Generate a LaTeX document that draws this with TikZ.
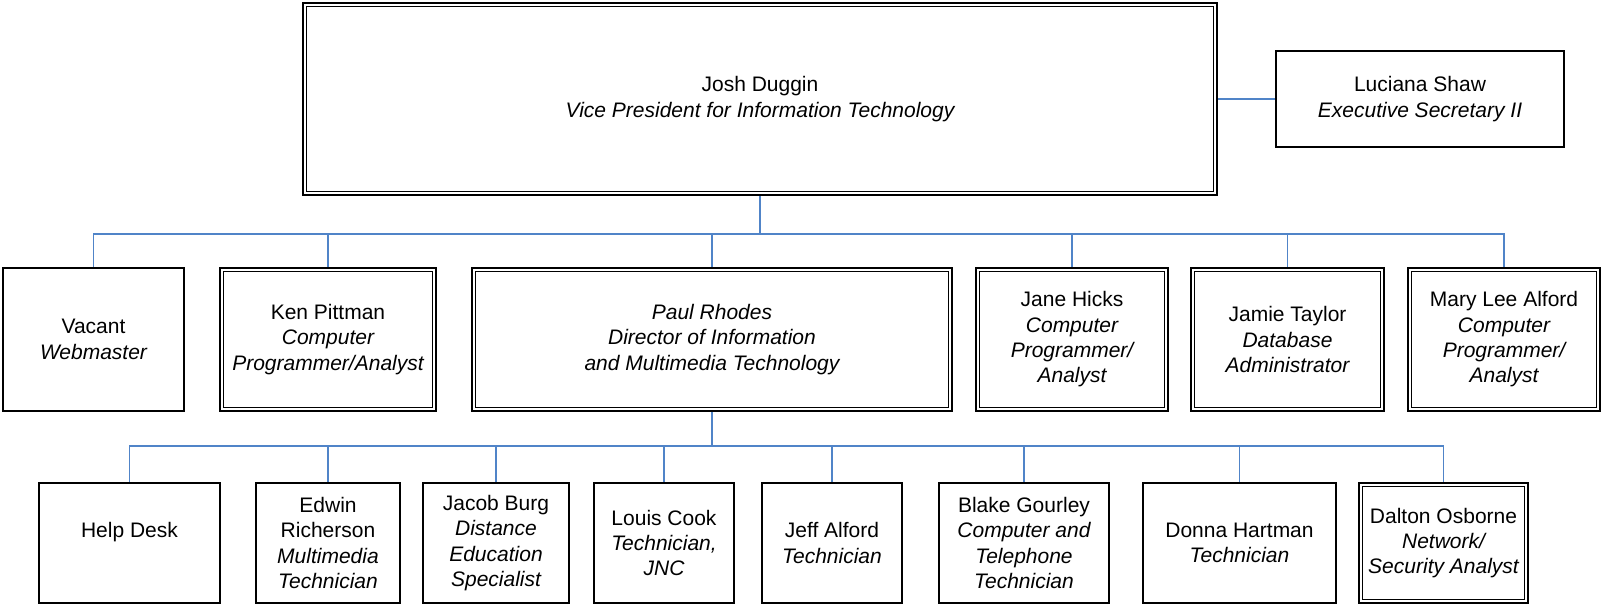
\documentclass[tikz,border=0pt]{standalone}
\usepackage{fontspec}
\setmainfont{Liberation Sans}
\definecolor{connblue}{RGB}{80,132,200}
\begin{document}
\begin{tikzpicture}[x=1pt,y=-1pt,
  box/.style={draw=black, line width=2.2pt, rectangle, inner sep=0pt, align=center,
    font=\fontsize{21}{25.3}\selectfont},
  innerline/.style={draw=black, line width=1.3pt},
  conn/.style={draw=connblue, line width=1.8pt}]
\useasboundingbox (0,0) rectangle (1602,605);
% level 1
\node[box, minimum width=914pt, minimum height=192pt] (josh) at (760,99) {Josh Duggin\\\itshape Vice President for Information Technology};
\node[box, minimum width=288pt, minimum height=96pt] (luc) at (1420,99) {Luciana Shaw\\\itshape Executive Secretary II};
% level 2
\node[box, minimum width=181pt, minimum height=143pt] (vac) at (93.5,339.5) {Vacant\\\itshape Webmaster};
\node[box, minimum width=216pt, minimum height=143pt] (ken) at (328,339.5) {Ken Pittman\\\itshape Computer\\\itshape Programmer/Analyst};
\node[box, minimum width=480pt, minimum height=143pt] (paul) at (712,339.5) {\itshape Paul Rhodes\\\itshape Director of Information\\\itshape and Multimedia Technology};
\node[box, minimum width=192pt, minimum height=143pt] (jane) at (1072,339.5) {Jane Hicks\\\itshape Computer\\\itshape Programmer/\\\itshape Analyst};
\node[box, minimum width=193pt, minimum height=143pt] (jamie) at (1287.5,339.5) {Jamie Taylor\\\itshape Database\\\itshape Administrator};
\node[box, minimum width=192pt, minimum height=143pt] (mary) at (1504,339.5) {Mary Lee Alford\\\itshape Computer\\\itshape Programmer/\\\itshape Analyst};
% level 3
\node[box, minimum width=181pt, minimum height=120pt] (help) at (129.5,543) {Help Desk\\\mbox{}};
\node[box, minimum width=144pt, minimum height=120pt] (edwin) at (328,543) {Edwin\\Richerson\\\itshape Multimedia\\\itshape Technician};
\node[box, minimum width=146pt, minimum height=120pt] (jacob) at (496,543) {Jacob Burg\\\itshape Distance\\\itshape Education\\\itshape Specialist};
\node[box, minimum width=140pt, minimum height=120pt] (louis) at (664,543) {Louis Cook\\\itshape Technician,\\\itshape JNC};
\node[box, minimum width=140pt, minimum height=120pt] (jeff) at (832,543) {Jeff Alford\\\itshape Technician};
\node[box, minimum width=170pt, minimum height=120pt] (blake) at (1024,543) {Blake Gourley\\\itshape Computer and\\\itshape Telephone\\\itshape Technician};
\node[box, minimum width=193pt, minimum height=120pt] (donna) at (1239.5,543) {Donna Hartman\\\itshape Technician};
\node[box, minimum width=169pt, minimum height=120pt] (dalton) at (1443.5,543) {Dalton Osborne\\\itshape Network/\\\itshape Security Analyst};
% inner lines of double boxes
\foreach \n in {josh,ken,paul,jane,jamie,mary,dalton}
  \draw[innerline] ([xshift=4.8pt,yshift=-4.8pt]\n.north west) rectangle ([xshift=-4.8pt,yshift=4.8pt]\n.south east);
% connectors
\coordinate (b1) at (760,234);
\coordinate (b2) at (712,446);
\draw[conn] (josh.east) -- (luc.west);
\draw[conn] (josh.south) -- (b1);
\foreach \c in {vac,ken,paul,jane,jamie,mary}
  \draw[conn] (b1) -| (\c.north);
\draw[conn] (paul.south) -- (b2);
\foreach \c in {help,edwin,jacob,louis,jeff,blake,donna,dalton}
  \draw[conn] (b2) -| (\c.north);
\end{tikzpicture}
\end{document}
